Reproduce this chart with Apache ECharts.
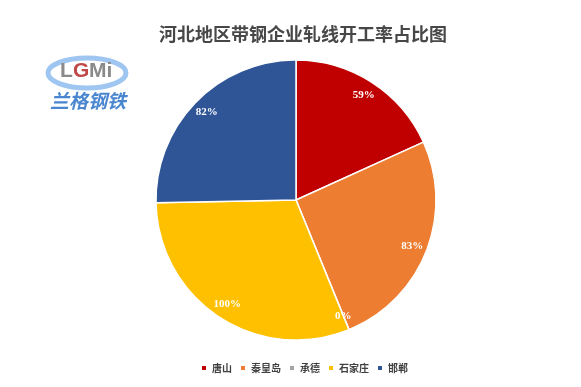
<!DOCTYPE html>
<html><head><meta charset="utf-8">
<script src="https://cdn.jsdelivr.net/npm/echarts@6/dist/echarts.min.js"></script>
<style>html,body{margin:0;padding:0;background:#fff}#c{width:581px;height:387px}</style>
</head><body><div id="c"></div>
<script>
var categories = ['唐山', '秦皇岛', '承德', '石家庄', '邯郸'];
var values = [59, 83, 0, 100, 82];
var labels = ['59%', '83%', '0%', '100%', '82%'];
var colors = ['#C00000', '#ED7D31', '#A5A5A5', '#FFC000', '#2F5597'];

var chart = echarts.init(document.getElementById('c'));
var data = categories.map(function (c, i) { return { name: c, value: values[i], label: { formatter: labels[i] } }; });
chart.setOption({
  animation: false,
  title: {
    text: '河北地区带钢企业轧线开工率占比图', left: 298, top: 20, textAlign: 'center',
    textStyle: { fontSize: 18, fontWeight: 'bold', color: '#474747', fontFamily: 'Noto Sans CJK SC' }
  },
  color: colors,
  legend: {
    top: 358, left: 195, itemWidth: 6, itemHeight: 6, itemGap: 7, icon: 'rect',
    textStyle: { fontSize: 10, fontWeight: 'bold', color: '#404040', fontFamily: 'Noto Sans CJK SC', padding: [0, 0, 0, 0] },
    data: categories
  },
  graphic: [
    { type: 'ellipse', shape: { cx: 87, cy: 73, rx: 39, ry: 15 },
      style: { fill: '#fff', stroke: '#7fb2ec', lineWidth: 5, opacity: 0.75 } },
    { type: 'text', left: 60, top: 61, style: { text: 'L', fontSize: 21, fontWeight: 'bold', fill: '#8a8a8a', fontFamily: 'Arial' } },
    { type: 'text', left: 73, top: 61, style: { text: 'G', fontSize: 21, fontWeight: 'bold', fill: '#c04848', fontFamily: 'Arial' } },
    { type: 'text', left: 89, top: 61, style: { text: 'Mi', fontSize: 21, fontWeight: 'bold', fill: '#8a8a8a', fontFamily: 'Arial' } },
    { type: 'text', left: 50, top: 91, style: { text: '兰格钢铁', fontSize: 19, fontWeight: 'bold', fontStyle: 'italic', fill: '#4a86d0', fontFamily: 'Noto Sans CJK SC' } }
  ],
  series: [{
    type: 'pie', center: [296, 200], radius: [0, 140], startAngle: 90, clockwise: true,
    avoidLabelOverlap: false, silent: true,
    itemStyle: { borderColor: '#fff', borderWidth: 1.5 },
    label: { show: false }, labelLine: { show: false },
    data: data
  }, {
    type: 'pie', center: [296, 200], radius: [104, 140], startAngle: 90, clockwise: true,
    avoidLabelOverlap: false, silent: true, stillShowZeroSum: true,
    itemStyle: { color: 'rgba(0,0,0,0)', borderWidth: 0 },
    label: { show: true, position: 'inside', color: '#fff', fontSize: 11, fontWeight: 'bold', fontFamily: 'Liberation Serif' },
    labelLine: { show: false },
    data: data
  }]
});
</script></body></html>
